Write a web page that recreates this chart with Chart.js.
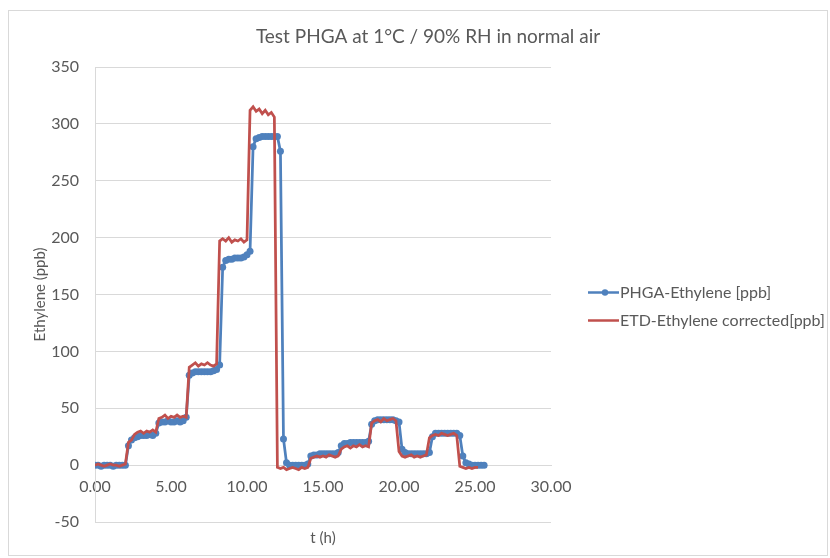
<!DOCTYPE html>
<html>
<head>
<meta charset="utf-8">
<script src="https://cdn.jsdelivr.net/npm/chart.js@4.4.1/dist/chart.umd.min.js"></script>
<style>
  html, body { margin: 0; padding: 0; background: #fff; }
  canvas { display: block; }
</style>
</head>
<body>
<canvas id="chart" width="830" height="558"></canvas>
<script>
// time axis (h), one sample every 0.2 h
const hours = [
  0, 0.2, 0.4, 0.6, 0.8, 1, 1.2, 1.4, 1.6, 1.8,
  2, 2.2, 2.4, 2.6, 2.8, 3, 3.2, 3.4, 3.6, 3.8,
  4, 4.2, 4.4, 4.6, 4.8, 5, 5.2, 5.4, 5.6, 5.8,
  6, 6.2, 6.4, 6.6, 6.8, 7, 7.2, 7.4, 7.6, 7.8,
  8, 8.2, 8.4, 8.6, 8.8, 9, 9.2, 9.4, 9.6, 9.8,
  10, 10.2, 10.4, 10.6, 10.8, 11, 11.2, 11.4, 11.6, 11.8,
  12, 12.2, 12.4, 12.6, 12.8, 13, 13.2, 13.4, 13.6, 13.8,
  14, 14.2, 14.4, 14.6, 14.8, 15, 15.2, 15.4, 15.6, 15.8,
  16, 16.2, 16.4, 16.6, 16.8, 17, 17.2, 17.4, 17.6, 17.8,
  18, 18.2, 18.4, 18.6, 18.8, 19, 19.2, 19.4, 19.6, 19.8,
  20, 20.2, 20.4, 20.6, 20.8, 21, 21.2, 21.4, 21.6, 21.8,
  22, 22.2, 22.4, 22.6, 22.8, 23, 23.2, 23.4, 23.6, 23.8,
  24, 24.2, 24.4, 24.6, 24.8, 25, 25.2, 25.4, 25.6
];
const phga = [
  0, 0, -1, 0, 0, 0, -1, 0, 0, 0,
  0, 17, 22, 24, 25, 26, 26, 26, 27, 26,
  28, 37, 38, 38, 39, 38, 38, 39, 38, 39,
  42, 79, 81, 82, 82, 82, 82, 82, 82, 83,
  84, 88, 174, 180, 181, 181, 182, 182, 182, 183,
  185, 188, 280, 287, 288, 289, 289, 289, 289, 289,
  289, 276, 23, 2, 0, 0, 0, 0, 0, 0,
  1, 8, 9, 9, 10, 10, 10, 10, 10, 10,
  11, 17, 19, 19, 20, 20, 20, 20, 20, 20,
  21, 36, 39, 40, 40, 40, 40, 40, 40, 39,
  38, 14, 11, 10, 10, 10, 10, 10, 10, 10,
  11, 25, 28, 28, 28, 28, 28, 28, 28, 28,
  26, 8, 2, 1, 0, 0, 0, 0, 0
];
const etd = [
  0, 1, 0, -1, 0, 1, 0, 0, -1, 0,
  1, 20, 22, 27, 29, 30, 28, 30, 29, 31,
  29, 41, 42, 44, 41, 43, 42, 44, 42, 43,
  42, 86, 88, 90, 87, 89, 88, 90, 88, 87,
  89, 197, 199, 197, 200, 196, 198, 197, 199, 196,
  198, 312, 315, 311, 313, 309, 312, 308, 310, 306,
  -2, -3, -2, -4, -3, -2, -3, -4, -2, -3,
  -2, 6, 7, 8, 7, 8, 7, 9, 8, 7,
  8, 14, 16, 17, 15, 17, 16, 18, 16, 17,
  16, 37, 39, 40, 38, 41, 39, 40, 41, 39,
  12, 8, 7, 8, 9, 7, 8, 7, 8, 9,
  24, 26, 27, 26, 28, 27, 26, 27, 28, 26,
  -1, -2, -3, -2, -3, -2, -2, null, null
];
const seriesNames = ['PHGA-Ethylene [ppb]', 'ETD-Ethylene corrected[ppb]'];
const seriesColors = ['#4f81bd', '#c0504d'];
const xRange = [0, 30, 5];
const yRange = [-50, 350, 50];

const GREY = '#595959';
const GRID = '#d9d9d9';
Chart.defaults.font.family = 'Lato, "Open Sans", sans-serif';
Chart.defaults.color = GREY;

const toPoints = vals => hours.map((t, i) => ({x: t, y: vals[i]}));

// chart border like an office chart frame
const framePlugin = {
  id: 'frame',
  beforeDraw(chart) {
    const c = chart.ctx;
    c.save();
    c.fillStyle = '#fff';
    c.fillRect(0, 0, chart.width, chart.height);
    c.strokeStyle = GRID;
    c.lineWidth = 1;
    c.strokeRect(8.5, 10.5, 819, 545);
    c.restore();
  }
};

// legend at the right, line + marker like the original
const sideLegend = {
  id: 'sideLegend',
  afterDraw(chart) {
    const c = chart.ctx;
    const x0 = chart.chartArea.right + 37;
    c.save();
    chart.data.datasets.forEach((ds, i) => {
      const y = 292.5 + i * 28;
      c.strokeStyle = ds.borderColor;
      c.lineWidth = 2.5;
      c.beginPath();
      c.moveTo(x0, y);
      c.lineTo(x0 + 31, y);
      c.stroke();
      if (ds.pointRadius > 0) {
        c.fillStyle = ds.borderColor;
        c.beginPath();
        c.arc(x0 + 17, y, 3.2, 0, Math.PI * 2);
        c.fill();
      }
      c.fillStyle = GREY;
      c.font = '16px ' + Chart.defaults.font.family;
      c.textBaseline = 'middle';
      c.textAlign = 'left';
      c.fillText(ds.label, x0 + 32, y);
    });
    c.restore();
  }
};

new Chart(document.getElementById('chart'), {
  type: 'line',
  data: {
    datasets: [
      {
        label: seriesNames[0],
        data: toPoints(phga),
        borderColor: seriesColors[0],
        backgroundColor: seriesColors[0],
        borderWidth: 2.75,
        pointRadius: 3.5,
        pointBorderWidth: 0,
        pointBackgroundColor: seriesColors[0],
        tension: 0,
        order: 1
      },
      {
        label: seriesNames[1],
        data: toPoints(etd),
        borderColor: seriesColors[1],
        backgroundColor: seriesColors[1],
        borderWidth: 2.75,
        pointRadius: 0,
        tension: 0,
        spanGaps: false,
        order: 0
      }
    ]
  },
  options: {
    responsive: false,
    animation: false,
    devicePixelRatio: 1,
    layout: { padding: {left: 26, right: 0, top: 10, bottom: 0} },
    scales: {
      x: {
        type: 'linear',
        position: {y: 0},
        min: xRange[0],
        max: xRange[1],
        grid: { color: 'rgba(0,0,0,0)', drawTicks: false },
        border: { color: GRID, width: 1 },
        ticks: {
          stepSize: xRange[2],
          padding: 12,
          font: {size: 16},
          color: GREY,
          callback: v => v.toFixed(2)
        }
      },
      y: {
        position: 'left',
        min: yRange[0],
        max: yRange[1],
        afterFit: s => { s.width = 69; },
        grid: { color: GRID, lineWidth: 1, drawTicks: false },
        border: { color: GRID, width: 1 },
        ticks: { stepSize: yRange[2], padding: 16, font: {size: 16}, color: GREY },
        title: {
          display: true,
          text: 'Ethylene (ppb)',
          font: {size: 15},
          color: GREY,
          padding: {top: 5, bottom: 0}
        }
      },
      // empty box that keeps room for the legend on the right
      yPad: {
        position: 'right',
        display: true,
        afterFit: s => { s.width = 279; },
        grid: { display: false },
        border: { display: false },
        ticks: { display: false }
      }
    },
    plugins: {
      legend: { display: false },
      tooltip: { enabled: false },
      title: {
        display: true,
        text: 'Test PHGA at 1°C / 90% RH in normal air',
        font: {size: 19, weight: 'normal'},
        color: GREY,
        padding: {top: 15, bottom: 19.2}
      },
      subtitle: {
        display: true,
        position: 'bottom',
        fullSize: false,
        text: 't (h)',
        font: {size: 15},
        color: GREY,
        padding: {top: 7, bottom: 11}
      }
    }
  },
  plugins: [framePlugin, sideLegend]
});
</script>
</body>
</html>
